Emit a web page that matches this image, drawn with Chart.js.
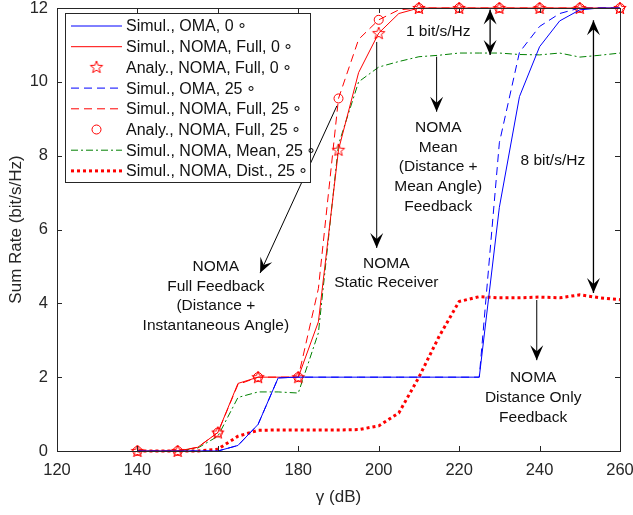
<!DOCTYPE html>
<html lang="en">
<head>
  <meta charset="UTF-8" />
  <title>Sum Rate vs gamma</title>
  <script src="https://cdn.jsdelivr.net/npm/chart.js"></script>
  <style>
    body { margin: 0; background: #fff; }
    #wrap { width: 633px; height: 515px; }
  </style>
</head>
<body>
  <div id="wrap"><canvas id="rateChart" width="633" height="515"></canvas></div>

  <script>
    // data (x in dB, y in bit/s/Hz)
    const gammaDb = [140, 145, 150, 155, 160, 165, 170, 175, 180, 185, 190, 195, 200,
                     205, 210, 215, 220, 225, 230, 235, 240, 245, 250, 255, 260];
    const analyGammaDb = [140, 150, 160, 170, 180, 190, 200, 210, 220, 230, 240, 250, 260];

    const omaZero = [0, 0, 0, 0, 0, 0.15, 0.72, 1.98, 2, 2, 2, 2, 2,
                     2, 2, 2, 2, 2, 6.6, 9.6, 10.95, 11.65, 11.95, 12, 12];
    const nomaFullZero = [0, 0, 0, 0.1, 0.5, 1.83, 2, 2, 2, 3.5, 8.16, 10.25, 11.32,
                          11.85, 12, 12, 12, 12, 12, 12, 12, 12, 12, 12, 12];
    const analyFullZero = [0, 0, 0.5, 2, 2, 8.16, 11.32, 12, 12, 12, 12, 12, 12];
    const omaTwentyFive = [0, 0, 0, 0, 0, 0.15, 0.72, 1.98, 2, 2, 2, 2, 2,
                           2, 2, 2, 2, 2, 8.35, 10.8, 11.5, 11.85, 12, 12, 12];
    const nomaFullTwentyFive = [0, 0, 0, 0.1, 0.5, 1.8, 2, 2, 2, 4.4, 9.55, 11.15, 11.68,
                                11.95, 12, 12, 12, 12, 12, 12, 12, 12, 12, 12, 12];
    const analyFullTwentyFive = [0, 0, 0.5, 2, 2, 9.55, 11.68, 12, 12, 12, 12, 12, 12];
    const nomaMeanTwentyFive = [0, 0, 0, 0.08, 0.4, 1.45, 1.6, 1.6, 1.57, 3.2, 8.3, 10.0, 10.4,
                                10.55, 10.68, 10.72, 10.78, 10.78, 10.78, 10.74, 10.73, 10.78, 10.67, 10.72, 10.78];
    const nomaDistTwentyFive = [0, 0, 0, 0, 0.05, 0.4, 0.56, 0.57, 0.57, 0.57, 0.57, 0.58, 0.68,
                                1.03, 2.0, 3.1, 4.05, 4.18, 4.15, 4.15, 4.17, 4.15, 4.23, 4.15, 4.1];

    const xTicks = [120, 140, 160, 180, 200, 220, 240, 260];
    const yTicks = [0, 2, 4, 6, 8, 10, 12];

    const seriesLabels = [
      'Simul., OMA, 0\u2009\u2218',
      'Simul., NOMA, Full, 0\u2009\u2218',
      'Analy., NOMA, Full, 0\u2009\u2218',
      'Simul., OMA, 25\u2009\u2218',
      'Simul., NOMA, Full, 25\u2009\u2218',
      'Analy., NOMA, Full, 25\u2009\u2218',
      'Simul., NOMA, Mean, 25\u2009\u2218',
      'Simul., NOMA, Dist., 25\u2009\u2218'
    ];

    const FONT = '"Liberation Sans", Arial, sans-serif';
    const AXIS = '#262626';

    function pts(xs, ys) {
      return xs.map((x, i) => ({ x: x, y: ys[i] }));
    }

    // pentagram marker like matlab 'p'
    function makeStar() {
      const c = document.createElement('canvas');
      c.width = 16; c.height = 16;
      const g = c.getContext('2d');
      g.strokeStyle = '#ff0000';
      g.lineWidth = 1;
      g.beginPath();
      for (let i = 0; i < 10; i++) {
        const r = i % 2 === 0 ? 6.5 : 2.7;
        const a = -Math.PI / 2 + i * Math.PI / 5;
        const px = 8 + r * Math.cos(a), py = 8.5 + r * Math.sin(a);
        if (i === 0) g.moveTo(px, py); else g.lineTo(px, py);
      }
      g.closePath();
      g.stroke();
      return c;
    }
    const starImg = makeStar();

    function lineSet(label, ys, color, dash, width) {
      return {
        label: label, data: pts(gammaDb, ys), borderColor: color, backgroundColor: color,
        borderWidth: width || 1, borderDash: dash || [], pointRadius: 0, clip: false,
        borderCapStyle: 'butt', tension: 0
      };
    }

    const datasets = [
      lineSet(seriesLabels[0], omaZero, '#0000ff'),
      lineSet(seriesLabels[1], nomaFullZero, '#ff0000'),
      {
        label: seriesLabels[2], data: pts(analyGammaDb, analyFullZero), showLine: false,
        pointStyle: starImg, borderColor: '#ff0000', clip: false
      },
      lineSet(seriesLabels[3], omaTwentyFive, '#0000ff', [8, 5]),
      lineSet(seriesLabels[4], nomaFullTwentyFive, '#ff0000', [8, 5]),
      {
        label: seriesLabels[5], data: pts(analyGammaDb, analyFullTwentyFive), showLine: false,
        pointStyle: 'circle', pointRadius: 4.5, borderColor: '#ff0000', borderWidth: 1,
        backgroundColor: 'rgba(0,0,0,0)', clip: false
      },
      lineSet(seriesLabels[6], nomaMeanTwentyFive, '#008000', [7, 3, 2, 3]),
      lineSet(seriesLabels[7], nomaDistTwentyFive, '#ff0000', [3, 3], 3)
    ];

    // annotation arrows and texts, in data coordinates
    const arrows = [
      { from: [227.7, 10.73], to: [227.7, 11.96], both: true },
      { from: [253.4, 4.28], to: [253.4, 11.67], both: true },
      { from: [214.4, 10.68], to: [214.4, 9.19] },
      { from: [199.5, 11.08], to: [199.5, 5.5] },
      { from: [189.6, 9.35], to: [170.5, 4.82] },
      { from: [239.3, 4.09], to: [239.3, 2.46] }
    ];
    const notes = [
      { at: [214.8, 11.35], lines: ['1 bit/s/Hz'] },
      { at: [243.3, 7.85], lines: ['8 bit/s/Hz'] },
      { at: [214.8, 8.76], lines: ['NOMA', 'Mean', '(Distance +', 'Mean Angle)', 'Feedback'] },
      { at: [201.9, 5.08], lines: ['NOMA', 'Static Receiver'] },
      { at: [159.5, 4.99], lines: ['NOMA', 'Full Feedback', '(Distance +', 'Instantaneous Angle)'] },
      { at: [238.4, 1.98], lines: ['NOMA', 'Distance Only', 'Feedback'] }
    ];

    function arrowHead(ctx, x1, y1, x2, y2) {
      const ang = Math.atan2(y2 - y1, x2 - x1);
      const L = 15, W = 6.5, N = 9;
      ctx.save();
      ctx.translate(x2, y2);
      ctx.rotate(ang);
      ctx.beginPath();
      ctx.moveTo(0, 0);
      ctx.lineTo(-L, -W);
      ctx.lineTo(-N, 0);
      ctx.lineTo(-L, W);
      ctx.closePath();
      ctx.fill();
      ctx.restore();
    }

    const decorations = {
      id: 'decorations',
      afterDatasetsDraw(chart) {
        const { ctx, chartArea: a, scales: { x, y } } = chart;
        ctx.save();

        // box and inward ticks
        ctx.strokeStyle = AXIS;
        ctx.lineWidth = 1;
        ctx.strokeRect(a.left + 0.5, a.top + 0.5, a.right - a.left, a.bottom - a.top);
        ctx.beginPath();
        xTicks.forEach(t => {
          const px = Math.round(x.getPixelForValue(t)) + 0.5;
          ctx.moveTo(px, a.bottom); ctx.lineTo(px, a.bottom - 5);
          ctx.moveTo(px, a.top); ctx.lineTo(px, a.top + 5);
        });
        yTicks.forEach(t => {
          const py = Math.round(y.getPixelForValue(t)) + 0.5;
          ctx.moveTo(a.left, py); ctx.lineTo(a.left + 5, py);
          ctx.moveTo(a.right, py); ctx.lineTo(a.right - 5, py);
        });
        ctx.stroke();

        // axis titles
        ctx.fillStyle = AXIS;
        ctx.font = '17px ' + FONT;
        ctx.textAlign = 'center';
        ctx.textBaseline = 'middle';
        ctx.fillText('\u03b3 (dB)', (a.left + a.right) / 2, 497);
        ctx.save();
        ctx.translate(16, (a.top + a.bottom) / 2);
        ctx.rotate(-Math.PI / 2);
        ctx.fillText('Sum Rate (bit/s/Hz)', 0, 0);
        ctx.restore();

        // arrows
        ctx.strokeStyle = '#000';
        ctx.fillStyle = '#000';
        arrows.forEach(ar => {
          const x1 = x.getPixelForValue(ar.from[0]), y1 = y.getPixelForValue(ar.from[1]);
          const x2 = x.getPixelForValue(ar.to[0]), y2 = y.getPixelForValue(ar.to[1]);
          ctx.lineWidth = ar.both ? 1.3 : 1;
          ctx.beginPath();
          ctx.moveTo(x1, y1); ctx.lineTo(x2, y2);
          ctx.stroke();
          arrowHead(ctx, x1, y1, x2, y2);
          if (ar.both) arrowHead(ctx, x2, y2, x1, y1);
        });

        // annotation texts
        ctx.fillStyle = '#111';
        ctx.font = '15.5px ' + FONT;
        notes.forEach(n => {
          const cx = x.getPixelForValue(n.at[0]);
          const cy = y.getPixelForValue(n.at[1]);
          n.lines.forEach((ln, i) => ctx.fillText(ln, cx, cy + i * 19.7));
        });

        // legend box
        const lx = 65, ly = 13, lw = 245, lh = 169;
        ctx.fillStyle = '#fff';
        ctx.fillRect(lx, ly, lw, lh);
        ctx.strokeStyle = AXIS;
        ctx.lineWidth = 1;
        ctx.strokeRect(lx + 0.5, ly + 0.5, lw, lh);
        ctx.font = '16px ' + FONT;
        chart.data.datasets.forEach((ds, i) => {
          const ry = 26 + i * 20.7;
          if (ds.showLine === false) {
            if (ds.pointStyle === 'circle') {
              ctx.strokeStyle = '#ff0000';
              ctx.lineWidth = 1;
              ctx.beginPath();
              ctx.arc(96.5, ry, 4.5, 0, Math.PI * 2);
              ctx.stroke();
            } else {
              ctx.drawImage(starImg, 96.5 - 8, ry - 8.5);
            }
          } else {
            ctx.strokeStyle = ds.borderColor;
            ctx.lineWidth = ds.borderWidth;
            ctx.setLineDash(ds.borderDash);
            ctx.beginPath();
            ctx.moveTo(71, ry); ctx.lineTo(122, ry);
            ctx.stroke();
            ctx.setLineDash([]);
          }
          ctx.fillStyle = '#111';
          ctx.textAlign = 'left';
          ctx.fillText(ds.label, 126, ry + 1);
        });
        ctx.restore();
      }
    };

    new Chart(document.getElementById('rateChart'), {
      type: 'line',
      data: { datasets: datasets },
      options: {
        responsive: false,
        animation: false,
        devicePixelRatio: 1,
        layout: { padding: { top: 8, right: 13, left: 0, bottom: 0 } },
        plugins: { legend: { display: false }, tooltip: { enabled: false } },
        scales: {
          x: {
            type: 'linear', min: 120, max: 260,
            afterFit: s => { s.height = 64; s.paddingLeft = 0; s.paddingRight = 0; },
            afterBuildTicks: s => { s.ticks = xTicks.map(v => ({ value: v })); },
            grid: { display: false, drawTicks: false },
            border: { display: false },
            ticks: { padding: 10, color: AXIS, font: { size: 16.5, family: FONT }, maxRotation: 0 }
          },
          y: {
            min: 0, max: 12,
            afterFit: s => { s.width = 57; s.paddingTop = 0; s.paddingBottom = 0; },
            afterBuildTicks: s => { s.ticks = yTicks.map(v => ({ value: v })); },
            grid: { display: false, drawTicks: false },
            border: { display: false },
            ticks: { padding: 9, color: AXIS, font: { size: 16.5, family: FONT } }
          }
        }
      },
      plugins: [decorations]
    });
  </script>
</body>
</html>
